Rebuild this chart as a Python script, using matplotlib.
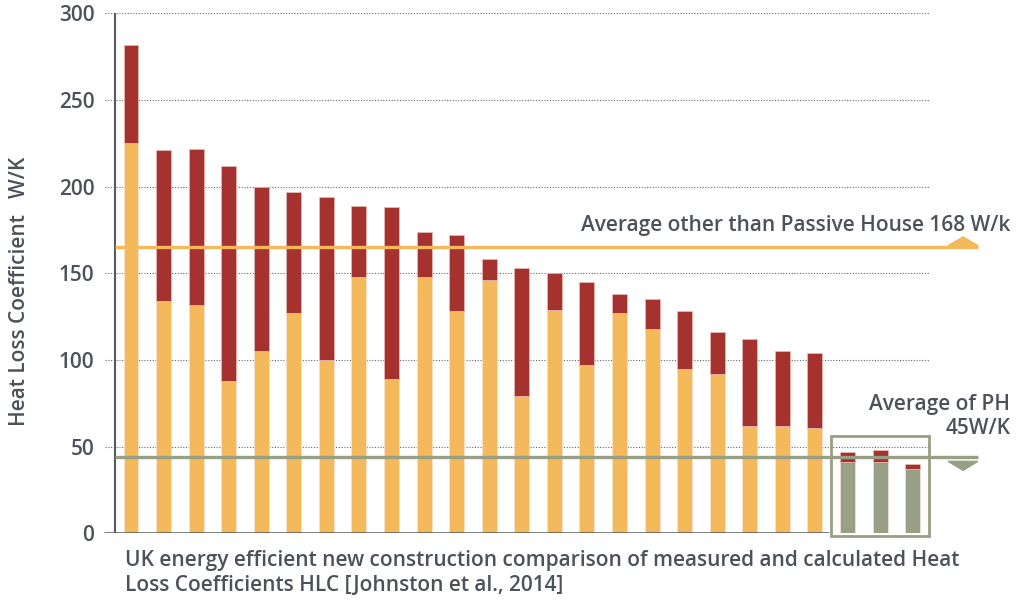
import matplotlib
matplotlib.use('Agg')
import matplotlib.pyplot as plt
from matplotlib.patches import Polygon, Rectangle

plt.rcParams['font.family'] = ['Open Sans', 'DejaVu Sans']
plt.rcParams['font.weight'] = 'semibold'

# 测得值（总高）与计算值（黄色部分）
measured = [282, 221, 222, 212, 200, 197, 194, 189, 188, 174, 172, 158, 153,
            150, 145, 138, 135, 128, 116, 112, 105, 104, 47, 48, 40]
calculated = [225, 134, 132, 88, 105, 127, 100, 148, 89, 148, 128, 146, 79,
              129, 97, 127, 118, 95, 92, 62, 62, 61, 41, 41, 37]
n_ph = 3  # 最后三栋为被动房
avg_other = 165
avg_ph = 44
yticks = [0, 50, 100, 150, 200, 250, 300]

YELLOW = '#F4B95B'
RED = '#A5322E'
GREEN = '#979F84'
TEXT = '#4D5259'
FS = 15

fig = plt.figure(figsize=(10.24, 6.01), dpi=100)
ax = fig.add_axes([104 / 1024, 67.7 / 601, (1012 - 104) / 1024, 520 / 601])

x = list(range(len(measured)))
bottom_colors = [YELLOW] * (len(measured) - n_ph) + [GREEN] * n_ph
diff = [m - c for m, c in zip(measured, calculated)]

ax.bar(x, calculated, width=0.46, color=bottom_colors, edgecolor='#f7e3d8',
       linewidth=0.5, zorder=2)
ax.bar(x, diff, bottom=calculated, width=0.46, color=RED, edgecolor='#e9bdb5',
       linewidth=0.5, zorder=2)

ax.set_xlim(-0.829, 27.05)
ax.set_ylim(0, 300)

# 网格线（虚点）
ax.hlines(yticks[1:], -0.8, 24.54, colors='#666666', linestyles=(0, (1, 1.5)),
          linewidth=0.8, zorder=1)
# 坐标轴线
ax.vlines(-0.49, 0, 300, colors='#555a5e', linewidth=1.5, zorder=3)
ax.hlines(0, -0.83, 21.44, colors='#555a5e', linewidth=1.8, zorder=3)

# 平均线
ax.hlines(avg_other, -0.49, 26.0, colors=YELLOW, linewidth=2.4, zorder=4)
ax.hlines(avg_ph, -0.49, 26.0, colors=GREEN, linewidth=2.4, zorder=4)
ax.add_patch(Polygon([[25.09, avg_other + 1], [26.0, avg_other + 1], [25.55, avg_other + 6]],
                     closed=True, color=YELLOW, zorder=4))
ax.add_patch(Polygon([[25.09, avg_ph - 2.5], [26.0, avg_ph - 2.5], [25.55, avg_ph - 7.7]],
                     closed=True, color=GREEN, zorder=4))

# 被动房框
ax.add_patch(Rectangle((21.49, -1.4), 3.01, 57.5, fill=False, edgecolor=GREEN,
                       linewidth=2.0, clip_on=False, zorder=5))

ax.text(27.0, 174.6, 'Average other than Passive House 168 W/k', ha='right',
        va='baseline', fontsize=FS, color=TEXT)
ax.text(27.0, 71.2, 'Average of PH', ha='right', va='baseline', fontsize=FS, color=TEXT)
ax.text(27.0, 57.3, '45W/K', ha='right', va='baseline', fontsize=FS, color=TEXT)

for s in ax.spines.values():
    s.set_visible(False)
ax.set_xticks([])
ax.set_yticks(yticks)
ax.tick_params(axis='y', length=0, pad=7, labelsize=FS, labelcolor=TEXT)

fig.text(20 / 1024, 1 - 291 / 601, 'Heat Loss Coefficient   W/K', rotation=90,
         ha='center', va='center', fontsize=FS, color=TEXT)
fig.text(125 / 1024, 1 - 550 / 601,
         'UK energy efficient new construction comparison of measured and calculated Heat\n'
         'Loss Coefficients HLC [Johnston et al., 2014]',
         ha='left', va='top', fontsize=FS, color=TEXT, linespacing=1.22)

fig.savefig('out.png', dpi=100)
